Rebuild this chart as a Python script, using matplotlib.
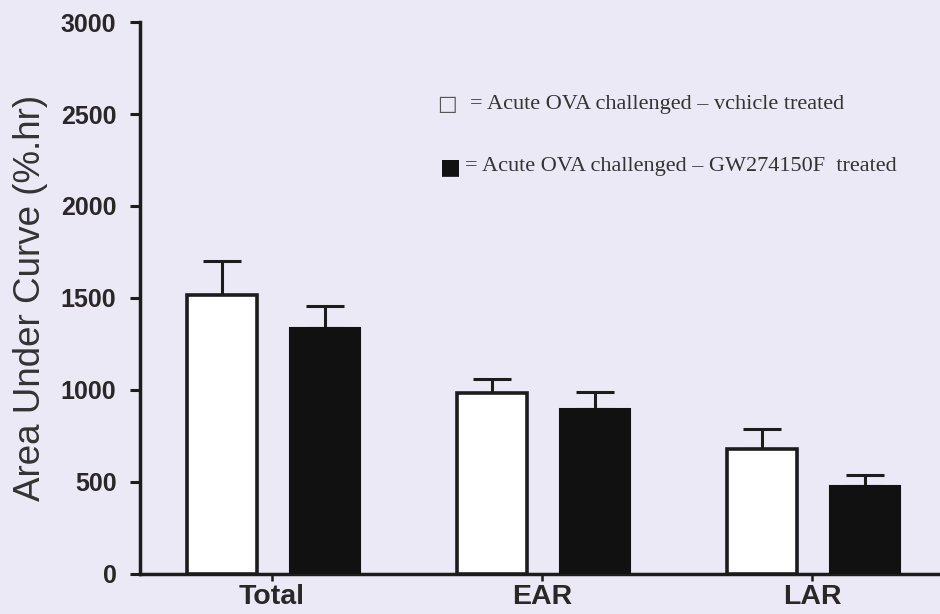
import matplotlib
matplotlib.use("Agg")
import matplotlib.pyplot as plt
import numpy as np

categories = ["Total", "EAR", "LAR"]
vehicle = [1515, 985, 680]
vehicle_err = [185, 72, 110]
treated = [1335, 895, 475]
treated_err = [120, 92, 62]
yticks = [0, 500, 1000, 1500, 2000, 2500, 3000]
legend_labels = ["= Acute OVA challenged \u2013 vchicle treated",
                 "= Acute OVA challenged \u2013 GW274150F  treated"]

bg = "#eae9f5"
ink = "#1c1c1c"
txt = "#2b2728"

fig = plt.figure(figsize=(9.4, 6.14), dpi=100, facecolor=bg)
ax = fig.add_axes([0.149, 0.0655, 0.851, 0.8985])
ax.set_facecolor(bg)

x = np.arange(len(categories))
w = 0.26
ax.bar(x - 0.185, vehicle, width=w, color="white", edgecolor=ink, linewidth=2.6, zorder=3)
ax.bar(x + 0.195, treated, width=w, color="#111111", edgecolor="#111111", linewidth=1.5, zorder=3)
ax.errorbar(x - 0.185, vehicle, yerr=[np.zeros(3), vehicle_err], fmt="none",
            ecolor=ink, elinewidth=2.2, capsize=13.5, capthick=2.2, zorder=2)
ax.errorbar(x + 0.195, treated, yerr=[np.zeros(3), treated_err], fmt="none",
            ecolor=ink, elinewidth=2.2, capsize=13.5, capthick=2.2, zorder=2)

ax.set_xlim(-0.489, 2.474)
ax.set_ylim(0, 3000)
ax.set_yticks(yticks)
ax.set_yticklabels([str(t) for t in yticks], fontsize=18, fontweight="bold",
                   family="Liberation Sans", color=txt)
ax.set_xticks(x)
ax.set_xticklabels(categories, fontsize=20.5, fontweight="bold",
                   family="Liberation Sans", color=txt)
ax.tick_params(axis="y", length=7, width=2.2, color=ink, pad=10)
ax.tick_params(axis="x", length=5, width=1.8, color=ink, pad=2.5)
for s in ["top", "right"]:
    ax.spines[s].set_visible(False)
for s in ["left", "bottom"]:
    ax.spines[s].set_linewidth(2.5)
    ax.spines[s].set_color(ink)
ax.set_ylabel("Area Under Curve (%.hr)", fontsize=26.5, family="Liberation Sans",
              color="#333333", labelpad=9)

# legend drawn as text
fig.text(447/940, 1 - 104/614, "\u25a1", fontsize=15, family=["DejaVu Sans"],
         color="#555555", ha="center", va="center")
fig.text(470/940, 1 - 104/614, legend_labels[0], fontsize=16,
         family="Liberation Serif", color="#333333", ha="left", va="center")
fig.text(450/940, 1 - 167/614, "\u25a0", fontsize=16, family=["DejaVu Sans"],
         color="#111111", ha="center", va="center")
fig.text(465/940, 1 - 167/614, legend_labels[1], fontsize=16,
         family="Liberation Serif", color="#333333", ha="left", va="center")

fig.savefig("out.png", dpi=100, facecolor=bg)
